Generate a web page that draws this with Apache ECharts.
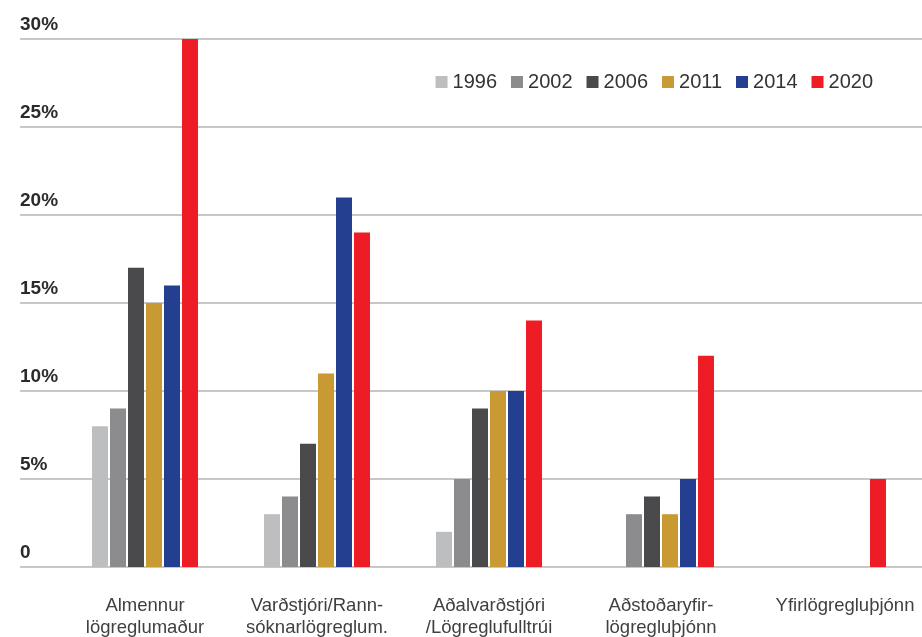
<!DOCTYPE html>
<html>
<head>
<meta charset="utf-8">
<script src="https://cdn.jsdelivr.net/npm/echarts@6/dist/echarts.min.js"></script>
<style>
  html, body { margin: 0; padding: 0; background: #fff; }
  #chart { width: 922px; height: 637px; }
</style>
</head>
<body>
<div id="chart"></div>
<script>
const categories = [
  'Almennur\nlögreglumaður',
  'Varðstjóri/Rann-\nsóknarlögreglum.',
  'Aðalvarðstjóri\n/Lögreglufulltrúi',
  'Aðstoðaryfir-\nlögregluþjónn',
  'Yfirlögregluþjónn'
];
const years = ['1996', '2002', '2006', '2011', '2014', '2020'];
const v1996 = [8, 3, 2, null, null];
const v2002 = [9, 4, 5, 3, null];
const v2006 = [17, 7, 9, 4, null];
const v2011 = [15, 11, 10, 3, null];
const v2014 = [16, 21, 10, 5, null];
const v2020 = [30, 19, 14, 12, 5];
const yTicks = ['0', '5%', '10%', '15%', '20%', '25%', '30%'];

const values = [v1996, v2002, v2006, v2011, v2014, v2020];
const colors = ['#bdbec0', '#8c8c8e', '#4a4a4c', '#c99a33', '#243f8f', '#ee1c25'];

const chart = echarts.init(document.getElementById('chart'));
chart.setOption({
  animation: false,
  grid: [
    // gridlines + y labels span the full width
    { left: 20, right: 0, top: 39, bottom: 70, outerBoundsMode: 'none' },
    // bars
    { left: 59, right: 3, top: 39, bottom: 70, outerBoundsMode: 'none' }
  ],
  legend: {
    data: years,
    right: 44,
    top: 67,
    itemWidth: 12,
    itemHeight: 12,
    itemGap: 14,
    icon: 'rect',
    textStyle: { fontFamily: 'Liberation Sans', fontSize: 20, color: '#333' }
  },
  xAxis: [
    { gridIndex: 0, type: 'value', show: false, min: 0, max: 1 },
    {
      gridIndex: 1,
      type: 'category',
      data: categories.map((c, i) => i === 4 ? { value: c, textStyle: { padding: [0, 0, 0, 24] } } : c),
      axisLine: { show: false },
      axisTick: { show: false },
      axisLabel: {
        interval: 0,
        margin: 28,
        fontFamily: 'Liberation Sans',
        fontSize: 18.5,
        lineHeight: 22,
        color: '#404040'
      }
    }
  ],
  yAxis: [
    {
      gridIndex: 0,
      type: 'value',
      min: 0,
      max: 30,
      interval: 5,
      axisLine: { show: false },
      axisTick: { show: false },
      splitLine: { lineStyle: { color: '#c8c8c8', width: 2 } },
      axisLabel: {
        inside: true,
        margin: 0,
        verticalAlign: 'bottom',
        padding: [0, 0, 5, 0],
        fontFamily: 'Liberation Sans',
        fontWeight: 'bold',
        fontSize: 19,
        color: '#2b2b2b',
        formatter: v => yTicks[v / 5]
      }
    },
    { gridIndex: 1, type: 'value', min: 0, max: 30, interval: 5, show: false }
  ],
  series: years.map((y, i) => ({
    name: y,
    type: 'bar',
    xAxisIndex: 1,
    yAxisIndex: 1,
    data: values[i],
    barWidth: 16,
    barGap: '12.5%',
    itemStyle: { color: colors[i] }
  }))
});
</script>
</body>
</html>
